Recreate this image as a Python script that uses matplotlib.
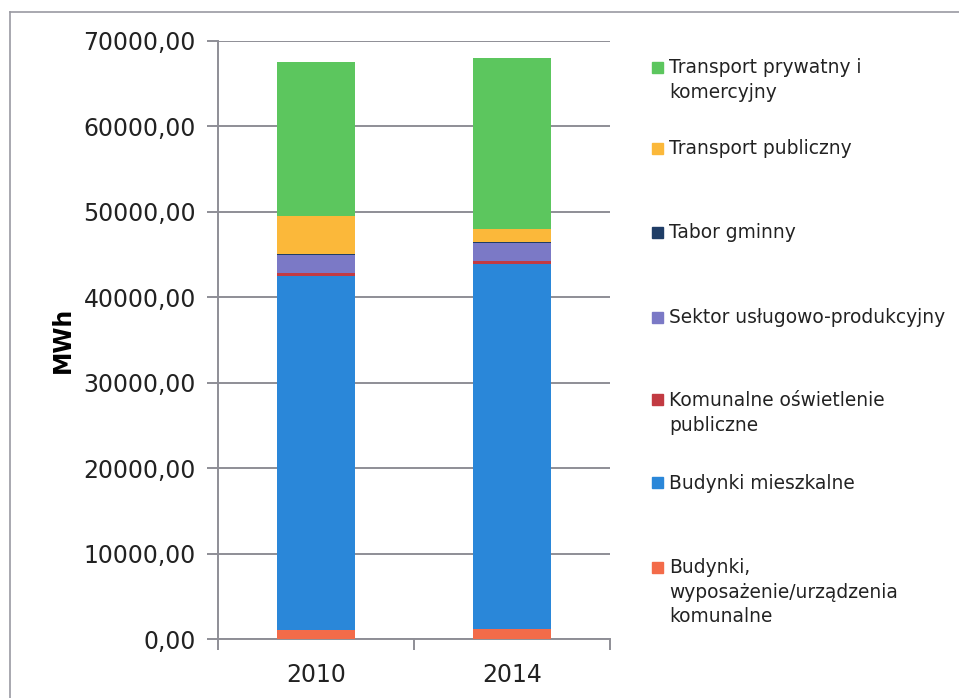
import numpy as np
from matplotlib import pyplot as plt
from matplotlib.lines import Line2D
from matplotlib.patches import Rectangle

# data (MWh)
years = ['2010', '2014']
labels = ['Budynki,\nwyposażenie/urządzenia\nkomunalne',
          'Budynki mieszkalne',
          'Komunalne oświetlenie\npubliczne',
          'Sektor usługowo-produkcyjny',
          'Tabor gminny',
          'Transport publiczny',
          'Transport prywatny i\nkomercyjny']
budynki_kom = [1100, 1150]
budynki_mieszk = [41400, 42720]
oswietlenie = [390, 390]
sektor = [2070, 2140]
tabor = [100, 120]
transport_publ = [4470, 1450]
transport_pryw = [18030, 19980]
series = [budynki_kom, budynki_mieszk, oswietlenie, sektor,
          tabor, transport_publ, transport_pryw]
colors = ['#f36b49', '#2a87d9', '#c23a42', '#7b79c6',
          '#1f3d66', '#fbb83a', '#5cc65e']
yticks = np.arange(0, 70001, 10000)

fig = plt.figure(figsize=(9.59, 6.98), dpi=100)
ax = fig.add_axes([0.2273, 0.0845, 0.4088, 0.8568])

x = np.arange(len(years))
bottom = np.zeros(len(years))
for vals, c in zip(series, colors):
    ax.bar(x, vals, width=0.40, bottom=bottom, color=c, zorder=3)
    bottom += np.array(vals)

ax.set_xlim(-0.5, 1.5)
ax.set_ylim(0, 70000)
ax.set_yticks(yticks)
ax.set_yticklabels([f'{v:.2f}'.replace('.', ',') for v in yticks],
                   fontsize=17, color='#222222')
ax.yaxis.grid(True, color='#8e8e96', lw=1.4, zorder=0)
ax.tick_params(axis='y', length=8, width=1.4, color='#8e8e96', pad=8)

# category labels, tick marks between categories
ax.set_xticks([-0.5, 0.5, 1.5])
ax.set_xticklabels([])
ax.set_xticks(x, minor=True)
ax.set_xticklabels(years, minor=True, fontsize=17, color='#222222')
ax.tick_params(axis='x', which='major', length=8, width=1.4,
               color='#8e8e96', direction='out')
ax.tick_params(axis='x', which='minor', length=0, pad=17)

for s in ['top', 'right']:
    ax.spines[s].set_visible(False)
for s in ['left', 'bottom']:
    ax.spines[s].set_color('#8e8e96')
    ax.spines[s].set_linewidth(1.4)

ax.set_ylabel('MWh', fontsize=17, fontweight='bold', labelpad=6)

# legend, drawn by hand to keep Excel's uneven spacing
leg_y = [67, 148, 232, 317, 400, 483, 567]   # first line, pixels from top
for lab, c, yp in zip(labels[::-1], colors[::-1], leg_y):
    yf = 1 - yp / 698
    fig.patches.append(Rectangle((652 / 959, yf - 5.5 / 698), 11 / 959, 11 / 698,
                                 transform=fig.transFigure, color=c))
    fig.text(669 / 959, yf + 9 / 698, lab, fontsize=13.4, color='#222222',
             va='top', ha='left', linespacing=1.38)

# outer frame (top and left edges only visible)
fig.add_artist(Line2D([10 / 959, 1], [1 - 12 / 698, 1 - 12 / 698],
                      transform=fig.transFigure, color='#9a9aa2', lw=1.2))
fig.add_artist(Line2D([10 / 959, 10 / 959], [0, 1 - 12 / 698],
                      transform=fig.transFigure, color='#9a9aa2', lw=1.2))

fig.savefig('out.png', dpi=100)
